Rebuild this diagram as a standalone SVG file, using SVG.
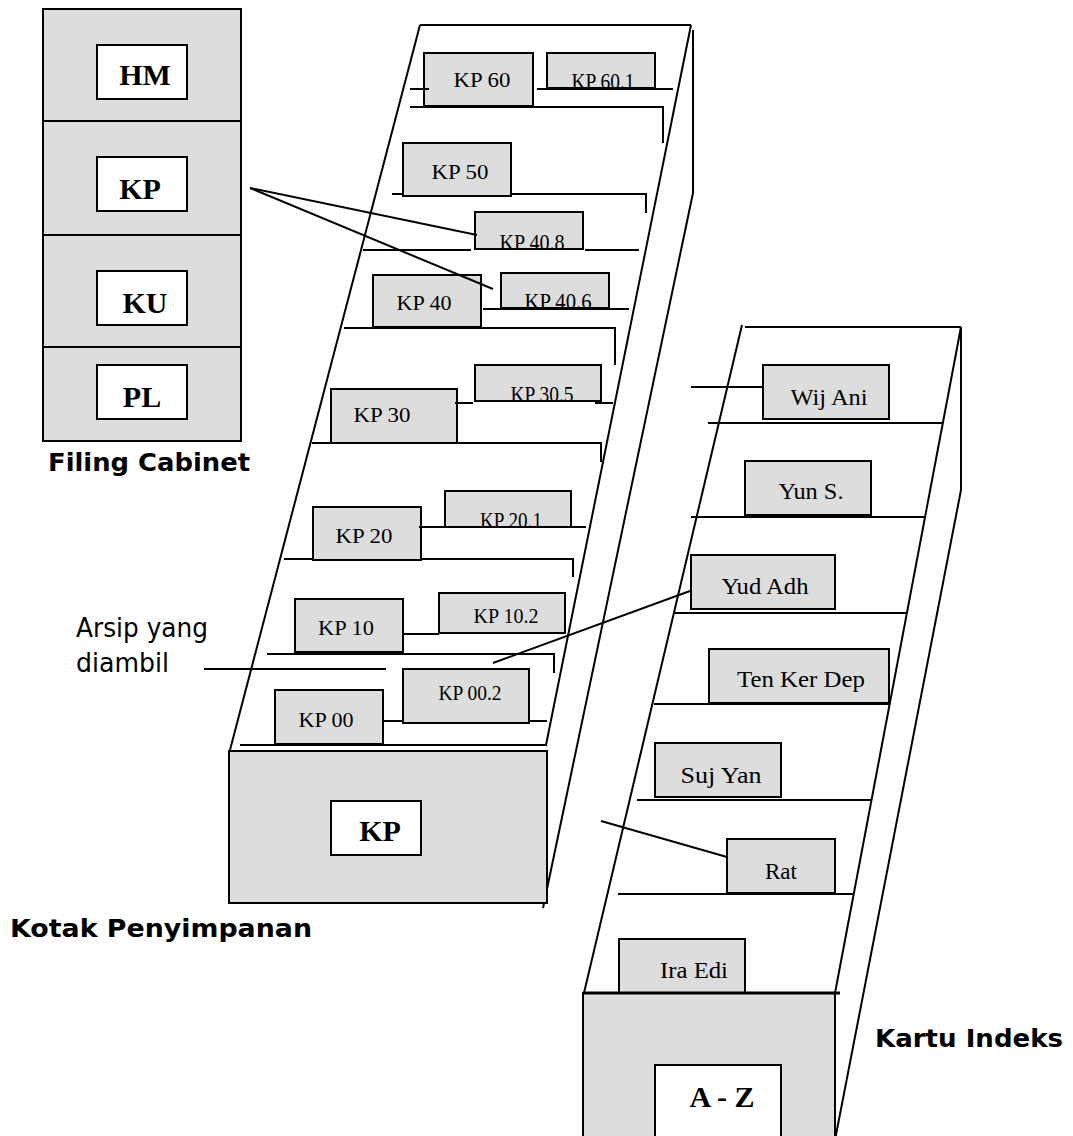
<svg xmlns="http://www.w3.org/2000/svg" width="1073" height="1136" viewBox="0 0 1073 1136">
<style>
.bg{fill:#ffffff}
.box{fill:#dddddd;stroke:#000;stroke-width:2}
.wbox{fill:#ffffff;stroke:#000;stroke-width:2}
.ln{stroke:#000;stroke-width:2;fill:none}
.tt{font-family:"Liberation Serif","Times New Roman",serif;font-size:22px;fill:#000;text-anchor:middle}
.tc{font-family:"Liberation Serif","Times New Roman",serif;font-size:23px;fill:#000;text-anchor:middle}
.tr{font-family:"Liberation Serif","Times New Roman",serif;font-size:24px;fill:#000;text-anchor:middle}
.tb{font-family:"Liberation Serif","Times New Roman",serif;font-size:30px;font-weight:bold;fill:#000;text-anchor:middle}
.lb{font-family:"DejaVu Sans","Liberation Sans",sans-serif;font-size:25px;font-weight:bold;fill:#000}
.lr{font-family:"DejaVu Sans","Liberation Sans",sans-serif;font-size:26px;fill:#000}
</style>
<defs>
<clipPath id="c601"><rect x="547" y="53" width="108" height="35"/></clipPath>
<clipPath id="c408"><rect x="475" y="212" width="108" height="37"/></clipPath>
<clipPath id="c406"><rect x="501" y="273" width="108" height="35"/></clipPath>
<clipPath id="c305"><rect x="475" y="365" width="126" height="36"/></clipPath>
<clipPath id="c201"><rect x="445" y="491" width="126" height="36"/></clipPath>
</defs>
<rect class="bg" x="0" y="0" width="1073" height="1136"/>

<g id="filing-cabinet">
<rect class="box" x="43" y="9" width="198" height="432"/>
<line class="ln" x1="43" y1="121" x2="241" y2="121"/>
<line class="ln" x1="43" y1="235" x2="241" y2="235"/>
<line class="ln" x1="43" y1="347" x2="241" y2="347"/>
<g id="cab-hm"><rect class="wbox" x="97" y="45" width="90" height="54"/><text class="tb" x="145" y="85">HM</text></g>
<g id="cab-kp"><rect class="wbox" x="97" y="157" width="90" height="54"/><text class="tb" x="140" y="199">KP</text></g>
<g id="cab-ku"><rect class="wbox" x="97" y="271" width="90" height="54"/><text class="tb" x="145" y="313">KU</text></g>
<g id="cab-pl"><rect class="wbox" x="97" y="365" width="90" height="54"/><text class="tb" x="142" y="407">PL</text></g>
<text class="lb" x="48" y="471" textLength="202" lengthAdjust="spacingAndGlyphs">Filing Cabinet</text>
</g>

<g id="kotak-penyimpanan">
<line class="ln" x1="420" y1="25" x2="691" y2="25"/>
<line class="ln" x1="420" y1="25" x2="230" y2="750"/>
<line class="ln" x1="691" y1="25" x2="546" y2="745"/>
<line class="ln" x1="693" y1="30" x2="693" y2="193"/>
<line class="ln" x1="693" y1="193" x2="543" y2="908"/>

<g id="kp60"><rect class="box" x="424" y="53" width="109" height="53"/><text class="tt" x="482" y="87" textLength="57" lengthAdjust="spacingAndGlyphs">KP 60</text></g>
<g id="kp601"><rect class="box" x="547" y="53" width="108" height="35"/><text class="tc" x="603" y="89" textLength="63" lengthAdjust="spacingAndGlyphs" clip-path="url(#c601)">KP 60.1</text></g>
<g id="kp50"><rect class="box" x="403" y="143" width="108" height="53"/><text class="tt" x="460" y="179" textLength="57" lengthAdjust="spacingAndGlyphs">KP 50</text></g>
<g id="kp408"><rect class="box" x="475" y="212" width="108" height="37"/><text class="tc" x="532" y="250" textLength="65" lengthAdjust="spacingAndGlyphs" clip-path="url(#c408)">KP 40.8</text></g>
<g id="kp406"><rect class="box" x="501" y="273" width="108" height="35"/><text class="tc" x="558" y="309" textLength="67" lengthAdjust="spacingAndGlyphs" clip-path="url(#c406)">KP 40.6</text></g>
<g id="kp40"><rect class="box" x="373" y="275" width="108" height="52"/><text class="tt" x="424" y="310" textLength="55" lengthAdjust="spacingAndGlyphs">KP 40</text></g>
<g id="kp305"><rect class="box" x="475" y="365" width="126" height="36"/><text class="tc" x="542" y="402" textLength="63" lengthAdjust="spacingAndGlyphs" clip-path="url(#c305)">KP 30.5</text></g>
<g id="kp30"><rect class="box" x="331" y="389" width="126" height="54"/><text class="tt" x="382" y="422" textLength="57" lengthAdjust="spacingAndGlyphs">KP 30</text></g>
<g id="kp201"><rect class="box" x="445" y="491" width="126" height="36"/><text class="tc" x="511" y="528" textLength="62" lengthAdjust="spacingAndGlyphs" clip-path="url(#c201)">KP 20.1</text></g>
<g id="kp20"><rect class="box" x="313" y="507" width="108" height="53"/><text class="tt" x="364" y="543" textLength="57" lengthAdjust="spacingAndGlyphs">KP 20</text></g>
<g id="kp102"><rect class="box" x="439" y="593" width="126" height="40"/><text class="tt" x="506" y="623" textLength="65" lengthAdjust="spacingAndGlyphs">KP 10.2</text></g>
<g id="kp10"><rect class="box" x="295" y="599" width="108" height="53"/><text class="tt" x="346" y="635" textLength="56" lengthAdjust="spacingAndGlyphs">KP 10</text></g>
<g id="kp002"><rect class="box" x="403" y="669" width="126" height="54"/><text class="tt" x="470" y="700" textLength="63" lengthAdjust="spacingAndGlyphs">KP 00.2</text></g>
<g id="kp00"><rect class="box" x="275" y="690" width="108" height="54"/><text class="tt" x="326" y="727" textLength="55" lengthAdjust="spacingAndGlyphs">KP 00</text></g>

<line class="ln" x1="240" y1="745" x2="547" y2="745"/>
<g id="kp-front"><rect class="box" x="229" y="751" width="318" height="152"/>
<rect class="wbox" x="331" y="801" width="90" height="54"/><text class="tb" x="380" y="841">KP</text></g>
<text class="lb" x="10" y="937" textLength="302" lengthAdjust="spacingAndGlyphs">Kotak Penyimpanan</text>
</g>

<g id="kartu-indeks">
<line class="ln" x1="745" y1="327" x2="961" y2="327"/>
<line class="ln" x1="742" y1="325" x2="584" y2="993"/>
<line class="ln" x1="961" y1="327" x2="835" y2="993"/>
<line class="ln" x1="961" y1="327" x2="961" y2="490"/>
<line class="ln" x1="961" y1="490" x2="835" y2="1140"/>

<g id="wij"><rect class="box" x="763" y="365" width="126" height="54"/><text class="tr" x="829" y="405" textLength="77" lengthAdjust="spacingAndGlyphs">Wij Ani</text></g>
<g id="yun"><rect class="box" x="745" y="461" width="126" height="54"/><text class="tr" x="811" y="499" textLength="65" lengthAdjust="spacingAndGlyphs">Yun S.</text></g>
<g id="yud"><rect class="box" x="691" y="555" width="144" height="54"/><text class="tr" x="765" y="594" textLength="87" lengthAdjust="spacingAndGlyphs">Yud Adh</text></g>
<g id="ten"><rect class="box" x="709" y="649" width="180" height="54"/><text class="tr" x="801" y="687" textLength="128" lengthAdjust="spacingAndGlyphs">Ten Ker Dep</text></g>
<g id="suj"><rect class="box" x="655" y="743" width="126" height="54"/><text class="tr" x="721" y="783" textLength="81" lengthAdjust="spacingAndGlyphs">Suj Yan</text></g>
<g id="rat"><rect class="box" x="727" y="839" width="108" height="54"/><text class="tr" x="781" y="879" textLength="32" lengthAdjust="spacingAndGlyphs">Rat</text></g>
<g id="ira"><rect class="box" x="619" y="939" width="126" height="54"/><text class="tr" x="694" y="978" textLength="68" lengthAdjust="spacingAndGlyphs">Ira Edi</text></g>

<g id="az-front"><rect class="box" x="583" y="993" width="252" height="150"/>
<line x1="583" y1="993" x2="840" y2="993" stroke="#000" stroke-width="3"/>
<rect class="wbox" x="655" y="1065" width="126" height="80"/><text class="tb" x="722" y="1107">A - Z</text></g>
<text class="lb" x="875" y="1047" textLength="188" lengthAdjust="spacingAndGlyphs">Kartu Indeks</text>
</g>

<g id="label-arsip">
<text class="lr" x="76" y="637" textLength="132" lengthAdjust="spacingAndGlyphs">Arsip yang</text>
<text class="lr" x="76" y="672" textLength="93" lengthAdjust="spacingAndGlyphs">diambil</text>
</g>

<g id="connectors">
<line class="ln" x1="410" y1="89" x2="429" y2="89"/>
<line class="ln" x1="537" y1="89" x2="673" y2="89"/>
<polyline class="ln" points="410,107 663,107 663,143"/>
<line class="ln" x1="392" y1="194" x2="403" y2="194"/>
<polyline class="ln" points="511,194 646,194 646,213"/>
<line class="ln" x1="363" y1="250" x2="471" y2="250"/>
<line class="ln" x1="585" y1="250" x2="639" y2="250"/>
<line class="ln" x1="483" y1="309" x2="629" y2="309"/>
<polyline class="ln" points="344,328 615,328 615,365"/>
<line class="ln" x1="455" y1="403" x2="473" y2="403"/>
<line class="ln" x1="595" y1="403" x2="613" y2="403"/>
<polyline class="ln" points="312,443 601,443 601,462"/>
<line class="ln" x1="419" y1="527" x2="586" y2="527"/>
<line class="ln" x1="284" y1="559" x2="313" y2="559"/>
<polyline class="ln" points="421,559 573,559 573,577"/>
<line class="ln" x1="404" y1="634" x2="439" y2="634"/>
<polyline class="ln" points="267,654 554,654 554,673"/>
<line class="ln" x1="383" y1="721" x2="403" y2="721"/>
<line class="ln" x1="529" y1="721" x2="547" y2="721"/>
<line class="ln" x1="691" y1="387" x2="763" y2="387"/>
<line class="ln" x1="708" y1="423" x2="943" y2="423"/>
<line class="ln" x1="691" y1="517" x2="924" y2="517"/>
<line class="ln" x1="673" y1="613" x2="906" y2="613"/>
<line class="ln" x1="654" y1="704" x2="889" y2="704"/>
<line class="ln" x1="637" y1="800" x2="871" y2="800"/>
<line class="ln" x1="618" y1="894" x2="853" y2="894"/>
<line class="ln" x1="250" y1="188" x2="477" y2="235"/>
<line class="ln" x1="250" y1="188" x2="493" y2="289"/>
<line class="ln" x1="204" y1="669" x2="386" y2="669"/>
<line class="ln" x1="493" y1="663" x2="690" y2="591"/>
<line class="ln" x1="601" y1="821" x2="727" y2="857"/>
</g>
</svg>
